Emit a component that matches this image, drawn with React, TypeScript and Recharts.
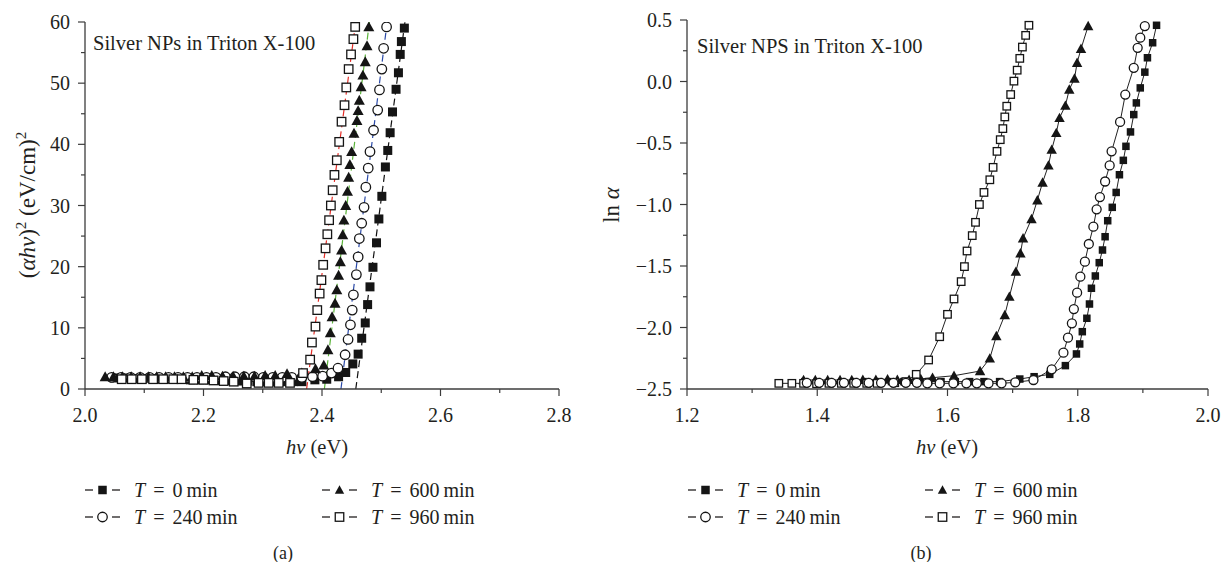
import React from "react";
import { ComposedChart, Line, XAxis, YAxis } from "recharts";

const FONT = '"Liberation Serif", "Times New Roman", serif';
const INK = "#231f20";
const AXIS = "#3c3c3c";

// ---- panel (a): (αhν)² vs hν ----
const a0X = [2.05, 2.066, 2.082, 2.098, 2.114, 2.13, 2.146, 2.162, 2.178, 2.194, 2.21, 2.226, 2.242, 2.258, 2.274, 2.29, 2.306, 2.322, 2.338, 2.352, 2.366, 2.388, 2.408, 2.428, 2.44, 2.452, 2.461, 2.467, 2.473, 2.477, 2.481, 2.486, 2.492, 2.496, 2.501, 2.507, 2.511, 2.515, 2.519, 2.525, 2.529, 2.532, 2.534, 2.539];
const a0Y = [1.8, 1.8, 1.7, 1.7, 1.7, 1.6, 1.6, 1.6, 1.5, 1.5, 1.5, 1.4, 1.4, 1.3, 1.3, 1.2, 1.2, 1.2, 1.2, 1.2, 1.2, 1.5, 1.6, 2.0, 2.7, 4.1, 5.7, 8.3, 10.8, 13.8, 16.7, 19.9, 23.9, 27.8, 31.5, 36.3, 39.0, 41.9, 45.3, 49.0, 51.7, 54.7, 56.8, 59.0];

const a240X = [2.045, 2.061, 2.077, 2.093, 2.109, 2.125, 2.141, 2.157, 2.173, 2.189, 2.205, 2.221, 2.237, 2.253, 2.269, 2.285, 2.301, 2.317, 2.333, 2.349, 2.366, 2.384, 2.401, 2.416, 2.427, 2.439, 2.444, 2.448, 2.451, 2.453, 2.458, 2.461, 2.463, 2.467, 2.471, 2.474, 2.478, 2.481, 2.487, 2.494, 2.497, 2.501, 2.504, 2.509];
const a240Y = [1.9, 1.9, 1.9, 1.9, 1.9, 1.9, 1.9, 1.9, 1.9, 1.9, 1.9, 1.9, 2.0, 2.0, 2.0, 2.0, 1.9, 1.9, 1.9, 1.9, 1.9, 2.0, 2.1, 2.6, 3.4, 5.6, 8.1, 10.5, 12.9, 15.4, 18.7, 21.6, 24.6, 27.1, 29.7, 33.0, 36.1, 38.8, 42.3, 45.6, 48.9, 52.3, 55.7, 59.2];

const a600X = [2.034, 2.048, 2.063, 2.078, 2.093, 2.107, 2.121, 2.136, 2.151, 2.166, 2.181, 2.197, 2.214, 2.232, 2.25, 2.268, 2.286, 2.304, 2.321, 2.341, 2.366, 2.389, 2.403, 2.41, 2.414, 2.417, 2.422, 2.425, 2.428, 2.431, 2.433, 2.435, 2.437, 2.44, 2.443, 2.445, 2.447, 2.45, 2.454, 2.459, 2.461, 2.463, 2.466, 2.469, 2.473, 2.476, 2.479];
const a600Y = [2.0, 2.0, 2.0, 2.0, 2.0, 2.0, 2.0, 2.0, 2.0, 2.0, 2.0, 2.2, 2.2, 2.1, 2.1, 2.1, 2.1, 2.2, 2.2, 2.5, 2.6, 3.3, 3.9, 6.4, 9.2, 11.8, 14.0, 16.2, 18.6, 20.8, 22.7, 25.2, 27.6, 30.0, 32.3, 34.6, 36.7, 38.8, 41.8, 43.9, 45.5, 47.2, 49.4, 51.3, 53.5, 56.1, 59.2];

const a960X = [2.062, 2.079, 2.096, 2.115, 2.132, 2.149, 2.163, 2.183, 2.2, 2.217, 2.234, 2.251, 2.273, 2.293, 2.31, 2.327, 2.346, 2.368, 2.38, 2.383, 2.389, 2.392, 2.396, 2.399, 2.402, 2.406, 2.409, 2.412, 2.415, 2.418, 2.421, 2.425, 2.429, 2.433, 2.438, 2.441, 2.445, 2.449, 2.453, 2.456];
const a960Y = [1.6, 1.6, 1.6, 1.6, 1.6, 1.6, 1.6, 1.5, 1.5, 1.4, 1.3, 1.2, 0.9, 1.0, 1.0, 1.0, 1.0, 2.6, 4.8, 7.6, 10.2, 12.9, 15.6, 17.8, 20.3, 23.0, 25.3, 27.6, 30.0, 32.5, 35.0, 37.4, 40.4, 43.7, 46.4, 49.3, 52.3, 54.7, 57.2, 59.2];

// linear fits (dashed), extrapolated to the axis
const fit0X = [2.457, 2.54];
const fit240X = [2.432, 2.51];
const fit600X = [2.404, 2.48];
const fit960X = [2.374, 2.457];
const fitY = [0, 60];

const aXTicks = [2.0, 2.1, 2.2, 2.3, 2.4, 2.5, 2.6, 2.7, 2.8];
const aYTicks = [0, 5, 10, 15, 20, 25, 30, 35, 40, 45, 50, 55, 60];

// ---- panel (b): ln α vs hν ----
const b0X = [1.381, 1.4, 1.419, 1.438, 1.457, 1.476, 1.495, 1.514, 1.533, 1.552, 1.571, 1.59, 1.612, 1.634, 1.656, 1.68, 1.711, 1.733, 1.757, 1.781, 1.798, 1.803, 1.807, 1.814, 1.818, 1.821, 1.827, 1.833, 1.838, 1.842, 1.846, 1.853, 1.859, 1.864, 1.87, 1.874, 1.881, 1.886, 1.89, 1.896, 1.903, 1.907, 1.915, 1.921];
const b0Y = [-2.44, -2.44, -2.44, -2.44, -2.44, -2.44, -2.44, -2.44, -2.44, -2.44, -2.44, -2.44, -2.44, -2.44, -2.44, -2.44, -2.419, -2.4, -2.381, -2.31, -2.215, -2.134, -2.034, -1.925, -1.809, -1.681, -1.581, -1.473, -1.37, -1.262, -1.132, -1.023, -0.902, -0.758, -0.641, -0.527, -0.41, -0.269, -0.174, -0.052, 0.076, 0.193, 0.315, 0.457];

const b240X = [1.384, 1.403, 1.422, 1.441, 1.46, 1.479, 1.498, 1.517, 1.536, 1.553, 1.569, 1.588, 1.609, 1.629, 1.645, 1.663, 1.683, 1.704, 1.732, 1.76, 1.778, 1.785, 1.791, 1.794, 1.799, 1.804, 1.811, 1.817, 1.824, 1.829, 1.834, 1.842, 1.849, 1.852, 1.865, 1.873, 1.886, 1.892, 1.896, 1.903];
const b240Y = [-2.45, -2.45, -2.45, -2.45, -2.45, -2.45, -2.45, -2.45, -2.45, -2.45, -2.454, -2.454, -2.454, -2.454, -2.454, -2.454, -2.454, -2.446, -2.427, -2.34, -2.205, -2.083, -1.966, -1.85, -1.717, -1.587, -1.465, -1.321, -1.18, -1.039, -0.94, -0.813, -0.682, -0.568, -0.329, -0.106, 0.111, 0.274, 0.356, 0.451];

const b600X = [1.379, 1.397, 1.416, 1.435, 1.453, 1.47, 1.49, 1.508, 1.523, 1.541, 1.559, 1.577, 1.61, 1.65, 1.665, 1.675, 1.688, 1.695, 1.705, 1.712, 1.716, 1.729, 1.738, 1.746, 1.755, 1.76, 1.767, 1.772, 1.781, 1.787, 1.795, 1.799, 1.805, 1.816];
const b600Y = [-2.427, -2.427, -2.427, -2.427, -2.427, -2.425, -2.425, -2.42, -2.425, -2.425, -2.418, -2.408, -2.392, -2.354, -2.251, -2.069, -1.898, -1.749, -1.546, -1.397, -1.275, -1.118, -0.965, -0.821, -0.682, -0.554, -0.418, -0.296, -0.196, -0.065, 0.024, 0.152, 0.266, 0.451];

const b960X = [1.341, 1.361, 1.379, 1.399, 1.418, 1.437, 1.456, 1.476, 1.492, 1.519, 1.536, 1.552, 1.571, 1.588, 1.6, 1.61, 1.621, 1.626, 1.63, 1.638, 1.643, 1.649, 1.656, 1.665, 1.67, 1.676, 1.681, 1.685, 1.688, 1.691, 1.697, 1.702, 1.707, 1.711, 1.715, 1.72, 1.725];
const b960Y = [-2.454, -2.454, -2.454, -2.457, -2.454, -2.454, -2.454, -2.454, -2.454, -2.449, -2.44, -2.381, -2.264, -2.075, -1.893, -1.768, -1.627, -1.505, -1.378, -1.253, -1.145, -1.0, -0.902, -0.799, -0.698, -0.568, -0.473, -0.383, -0.288, -0.201, -0.106, 0.003, 0.092, 0.188, 0.28, 0.375, 0.457];

const bXTicks = [1.2, 1.3, 1.4, 1.5, 1.6, 1.7, 1.8, 1.9, 2.0];
const bYTicks = [-2.5, -2.25, -2.0, -1.75, -1.5, -1.25, -1.0, -0.75, -0.5, -0.25, 0, 0.25, 0.5];

const legendTimes = ["0", "240", "600", "960"];

const pts = (xs: number[], ys: number[]) => xs.map((x, i) => ({ x, y: ys[i] }));

type Kind = "fsq" | "osq" | "circ" | "tri";

function Marker({ kind, cx, cy, s }: { kind: Kind; cx: number; cy: number; s: number }) {
  const h = s / 2;
  if (kind === "fsq") return <rect x={cx - h} y={cy - h} width={s} height={s} fill="#151515" />;
  if (kind === "osq")
    return <rect x={cx - h} y={cy - h} width={s} height={s} fill="#fff" stroke="#151515" strokeWidth={1.3} />;
  if (kind === "circ") return <circle cx={cx} cy={cy} r={h} fill="#fff" stroke="#151515" strokeWidth={1.3} />;
  const t = s * 0.55;
  return <path d={`M${cx},${cy - t} L${cx + t},${cy + t * 0.8} L${cx - t},${cy + t * 0.8} Z`} fill="#151515" />;
}

const dotOf = (kind: Kind, s: number) => (p: any) => {
  if (p.cx == null || p.cy == null) return <g key={p.index} />;
  return (
    <g key={p.index}>
      <Marker kind={kind} cx={p.cx} cy={p.cy} s={s} />
    </g>
  );
};

const isMajor = (v: number, step: number) => Math.abs(v / step - Math.round(v / step)) < 1e-6;
const fmt1 = (v: number) => (v < -1e-9 ? "\u2212" : "") + Math.abs(v).toFixed(1);
const fmt0 = (v: number) => String(Math.round(v));

const tickText: React.CSSProperties = { fontFamily: FONT, fontSize: 20 };

const bottomTick = (bottom: number, step: number, fmt: (v: number) => string) => (p: any) => {
  const v = p.payload.value;
  const major = isMajor(v, step);
  return (
    <g>
      <line x1={p.x} x2={p.x} y1={bottom} y2={bottom + (major ? 7 : 4)} stroke={AXIS} strokeWidth={1.2} />
      {major && (
        <text x={p.x} y={bottom + 26} textAnchor="middle" dominantBaseline="central" style={tickText} fill={INK}>
          {fmt(v)}
        </text>
      )}
    </g>
  );
};

const leftTick = (left: number, step: number, fmt: (v: number) => string) => (p: any) => {
  const v = p.payload.value;
  const major = isMajor(v, step);
  return (
    <g>
      <line x1={left - (major ? 7 : 4)} x2={left} y1={p.y} y2={p.y} stroke={AXIS} strokeWidth={1.2} />
      {major && (
        <text x={left - 15} y={p.y} textAnchor="end" dominantBaseline="central" style={tickText} fill={INK}>
          {fmt(v)}
        </text>
      )}
    </g>
  );
};

const topTick = (top: number) => (p: any) => (
  <line x1={p.x} x2={p.x} y1={top} y2={top + 5} stroke={AXIS} strokeWidth={1.2} />
);

const rightTick = (right: number) => (p: any) => (
  <line x1={right - 5} x2={right} y1={p.y} y2={p.y} stroke={AXIS} strokeWidth={1.2} />
);

const axisLine = { stroke: AXIS, strokeWidth: 1.3 };

function PanelA() {
  return (
    <ComposedChart width={600} height={460} margin={{ top: 22, right: 41, bottom: 0, left: 0 }}>
      <XAxis xAxisId="top" orientation="top" type="number" dataKey="x" domain={[2, 2.8]} ticks={aXTicks} height={0}
        tick={topTick(22)} tickLine={false} axisLine={axisLine} interval={0} allowDataOverflow />
      <XAxis xAxisId="x" type="number" dataKey="x" domain={[2, 2.8]} ticks={aXTicks} height={71}
        tick={bottomTick(389, 0.2, fmt1)} tickLine={false} axisLine={axisLine} interval={0} allowDataOverflow />
      <YAxis yAxisId="y" type="number" domain={[0, 60]} ticks={aYTicks} width={85}
        tick={leftTick(85, 10, fmt0)} tickLine={false} axisLine={axisLine} interval={0} allowDataOverflow />
      <YAxis yAxisId="r" orientation="right" type="number" domain={[0, 60]} ticks={aYTicks} width={0}
        tick={rightTick(559)} tickLine={false} axisLine={axisLine} interval={0} allowDataOverflow />
      <Line xAxisId="x" yAxisId="y" data={pts(a0X, a0Y)} dataKey="y" stroke="none" dot={dotOf("fsq", 9)} activeDot={false} isAnimationActive={false} />
      <Line xAxisId="x" yAxisId="y" data={pts(a240X, a240Y)} dataKey="y" stroke="none" dot={dotOf("circ", 9.5)} activeDot={false} isAnimationActive={false} />
      <Line xAxisId="x" yAxisId="y" data={pts(a600X, a600Y)} dataKey="y" stroke="none" dot={dotOf("tri", 10)} activeDot={false} isAnimationActive={false} />
      <Line xAxisId="x" yAxisId="y" data={pts(a960X, a960Y)} dataKey="y" stroke="none" dot={dotOf("osq", 8.5)} activeDot={false} isAnimationActive={false} />
      <Line xAxisId="x" yAxisId="y" data={pts(fit0X, fitY)} dataKey="y" stroke="#111" strokeWidth={1.2} strokeDasharray="7 4" dot={false} activeDot={false} isAnimationActive={false} />
      <Line xAxisId="x" yAxisId="y" data={pts(fit240X, fitY)} dataKey="y" stroke="#2b4aa8" strokeWidth={1.2} strokeDasharray="7 4" dot={false} activeDot={false} isAnimationActive={false} />
      <Line xAxisId="x" yAxisId="y" data={pts(fit600X, fitY)} dataKey="y" stroke="#5bb33a" strokeWidth={1.2} strokeDasharray="7 4" dot={false} activeDot={false} isAnimationActive={false} />
      <Line xAxisId="x" yAxisId="y" data={pts(fit960X, fitY)} dataKey="y" stroke="#e52d27" strokeWidth={1.2} strokeDasharray="7 4" dot={false} activeDot={false} isAnimationActive={false} />
    </ComposedChart>
  );
}

function PanelB() {
  return (
    <ComposedChart width={621} height={460} margin={{ top: 20, right: 13, bottom: 0, left: 0 }}>
      <XAxis xAxisId="top" orientation="top" type="number" dataKey="x" domain={[1.2, 2.0]} ticks={bXTicks} height={0}
        tick={topTick(20)} tickLine={false} axisLine={axisLine} interval={0} allowDataOverflow />
      <XAxis xAxisId="x" type="number" dataKey="x" domain={[1.2, 2.0]} ticks={bXTicks} height={71}
        tick={bottomTick(389, 0.2, fmt1)} tickLine={false} axisLine={axisLine} interval={0} allowDataOverflow />
      <YAxis yAxisId="y" type="number" domain={[-2.5, 0.5]} ticks={bYTicks} width={87}
        tick={leftTick(87, 0.5, fmt1)} tickLine={false} axisLine={axisLine} interval={0} allowDataOverflow />
      <YAxis yAxisId="r" orientation="right" type="number" domain={[-2.5, 0.5]} ticks={bYTicks} width={0}
        tick={rightTick(608)} tickLine={false} axisLine={axisLine} interval={0} allowDataOverflow />
      <Line xAxisId="x" yAxisId="y" data={pts(b0X, b0Y)} dataKey="y" stroke="#222" strokeWidth={1} dot={dotOf("fsq", 7.5)} activeDot={false} isAnimationActive={false} />
      <Line xAxisId="x" yAxisId="y" data={pts(b600X, b600Y)} dataKey="y" stroke="#222" strokeWidth={1} dot={dotOf("tri", 9.5)} activeDot={false} isAnimationActive={false} />
      <Line xAxisId="x" yAxisId="y" data={pts(b960X, b960Y)} dataKey="y" stroke="#222" strokeWidth={1} dot={dotOf("osq", 7.5)} activeDot={false} isAnimationActive={false} />
      <Line xAxisId="x" yAxisId="y" data={pts(b240X, b240Y)} dataKey="y" stroke="#222" strokeWidth={1} dot={dotOf("circ", 9)} activeDot={false} isAnimationActive={false} />
    </ComposedChart>
  );
}

const kinds: Kind[] = ["fsq", "circ", "tri", "osq"];

function LegendEntry({ left, top, kind, time }: { left: number; top: number; kind: Kind; time: string }) {
  return (
    <div style={{ position: "absolute", left, top: top - 12, height: 24, display: "flex", alignItems: "center", whiteSpace: "nowrap" }}>
      <svg width={36} height={16} style={{ display: "block" }}>
        <line x1={0} x2={8} y1={8} y2={8} stroke={INK} strokeWidth={1.3} />
        <line x1={27} x2={35} y1={8} y2={8} stroke={INK} strokeWidth={1.3} />
        <Marker kind={kind} cx={17.5} cy={8} s={kind === "circ" ? 9.5 : 8.5} />
      </svg>
      <span style={{ marginLeft: 13, fontSize: 20, lineHeight: "24px" }}>
        <i>T</i>
        <span style={{ margin: "0 8px" }}>=</span>
        {time}
        <span style={{ marginLeft: 4 }}>min</span>
      </span>
    </div>
  );
}

function Legend({ col1, col2 }: { col1: number; col2: number }) {
  const rows = [490, 517];
  return (
    <>
      <LegendEntry left={col1} top={rows[0]} kind={kinds[0]} time={legendTimes[0]} />
      <LegendEntry left={col1} top={rows[1]} kind={kinds[1]} time={legendTimes[1]} />
      <LegendEntry left={col2} top={rows[0]} kind={kinds[2]} time={legendTimes[2]} />
      <LegendEntry left={col2} top={rows[1]} kind={kinds[3]} time={legendTimes[3]} />
    </>
  );
}

const abs = (left: number, top: number, extra: React.CSSProperties = {}): React.CSSProperties => ({
  position: "absolute",
  left,
  top,
  whiteSpace: "nowrap",
  ...extra,
});

export default function App() {
  return (
    <div style={{ position: "relative", width: 1221, height: 562, background: "#fff", overflow: "hidden", fontFamily: FONT, color: INK }}>
      <style>{`body{margin:0}`}</style>
      <div style={abs(0, 0)}>
        <PanelA />
      </div>
      <div style={abs(600, 0)}>
        <PanelB />
      </div>

      {/* in-plot titles */}
      <div style={abs(93, 43, { fontSize: 20.5, transform: "translateY(-50%)" })}>Silver NPs in Triton X-100</div>
      <div style={abs(697, 46, { fontSize: 20.5, transform: "translateY(-50%)" })}>Silver NPS in Triton X-100</div>

      {/* axis titles */}
      <div style={abs(27, 205, { fontSize: 23, transform: "translate(-50%, -50%) rotate(-90deg)" })}>
        (<i>αhν</i>)<sup style={{ fontSize: 15 }}>2</sup> (eV/cm)<sup style={{ fontSize: 15 }}>2</sup>
      </div>
      <div style={abs(612, 205, { fontSize: 23, transform: "translate(-50%, -50%) rotate(-90deg)" })}>
        ln <i>α</i>
      </div>
      <div style={abs(317, 447, { fontSize: 20.5, transform: "translate(-50%, -50%)" })}>
        <i>hν</i> (eV)
      </div>
      <div style={abs(947, 447, { fontSize: 20.5, transform: "translate(-50%, -50%)" })}>
        <i>hν</i> (eV)
      </div>

      <Legend col1={85} col2={322} />
      <Legend col1={688} col2={925} />

      <div style={abs(283, 553, { fontSize: 18, transform: "translate(-50%, -50%)" })}>(a)</div>
      <div style={abs(921, 553, { fontSize: 18, transform: "translate(-50%, -50%)" })}>(b)</div>
    </div>
  );
}
